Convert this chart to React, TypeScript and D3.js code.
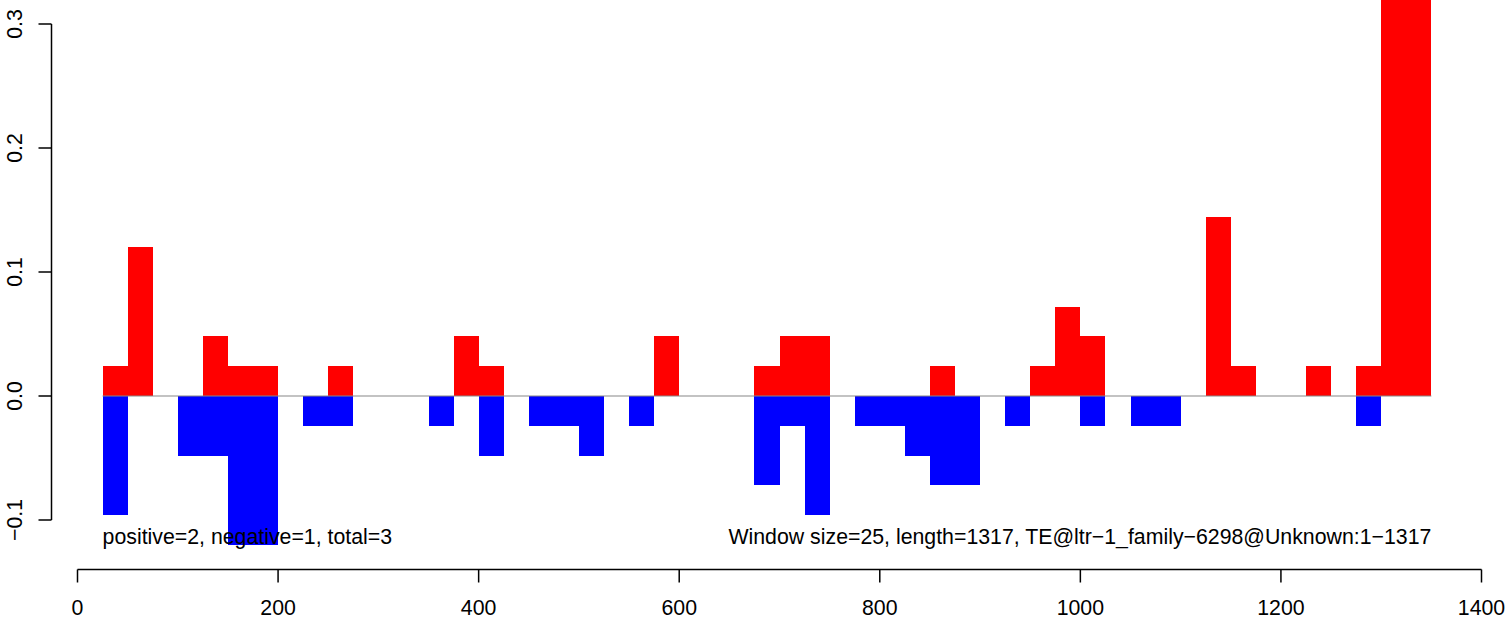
import React, { useRef, useEffect } from 'react';
import * as d3 from 'd3';

// window start positions (window size 25)
const windowStarts = [
  25, 50, 75, 100, 125, 150, 175, 200, 225, 250, 275, 300, 325, 350, 375, 400, 425, 450,
  475, 500, 525, 550, 575, 600, 625, 650, 675, 700, 725, 750, 775, 800, 825, 850, 875,
  900, 925, 950, 975, 1000, 1025, 1050, 1075, 1100, 1125, 1150, 1175, 1200, 1225, 1250,
  1275, 1300, 1325,
];
const positiveValues = [
  0.024, 0.12, 0, 0, 0.048, 0.024, 0.024, 0, 0, 0.024, 0, 0, 0, 0, 0.048, 0.024, 0, 0,
  0, 0, 0, 0, 0.048, 0, 0, 0, 0.024, 0.048, 0.048, 0, 0, 0, 0, 0.024, 0,
  0, 0, 0.024, 0.072, 0.048, 0, 0, 0, 0, 0.144, 0.024, 0, 0, 0.024, 0,
  0.024, 0.4, 0.4,
];
const negativeValues = [
  -0.096, 0, 0, -0.048, -0.048, -0.12, -0.12, 0, -0.024, -0.024, 0, 0, 0, -0.024, 0, -0.048, 0, -0.024,
  -0.024, -0.048, 0, -0.024, 0, 0, 0, 0, -0.072, -0.024, -0.096, 0, -0.024, -0.024, -0.048, -0.072, -0.072,
  0, -0.024, 0, 0, -0.024, 0, -0.024, -0.024, 0, 0, 0, 0, 0, 0, 0,
  -0.024, 0, 0,
];
const windowSize = 25;
const xTicks = [0, 200, 400, 600, 800, 1000, 1200, 1400];
const yTicks = [-0.1, 0.0, 0.1, 0.2, 0.3];
const leftNote = 'positive=2, negative=1, total=3';
const rightNote = 'Window size=25, length=1317, TE@ltr\u22121_family\u22126298@Unknown:1\u22121317';

const App: React.FC = () => {
  const svgRef = useRef<SVGSVGElement | null>(null);

  useEffect(() => {
    if (!svgRef.current) return;
    const W = 1509;
    const H = 620;
    const font = '"Liberation Sans", Arial, Helvetica, sans-serif';
    const fs = 21.3;

    const svg = d3.select(svgRef.current);
    svg.selectAll('*').remove();
    svg.attr('width', W).attr('height', H).style('background', '#fff');

    const x = d3.scaleLinear().domain([0, 1400]).range([77.5, 1481.5]);
    const y = d3.scaleLinear().domain([-0.1, 0.3]).range([520, 24]);

    const bins = windowStarts.map((s, i) => ({ s, pos: positiveValues[i], neg: negativeValues[i] }));

    const plot = svg.append('g');

    // positive bars
    plot
      .selectAll('.pos')
      .data(bins.filter((d) => d.pos > 0))
      .enter()
      .append('rect')
      .attr('x', (d) => x(d.s))
      .attr('width', (d) => x(d.s + windowSize) - x(d.s))
      .attr('y', (d) => Math.max(0, y(d.pos)))
      .attr('height', (d) => y(0) - Math.max(0, y(d.pos)))
      .attr('fill', '#FF0000')
      .attr('shape-rendering', 'crispEdges');

    // negative bars
    plot
      .selectAll('.neg')
      .data(bins.filter((d) => d.neg < 0))
      .enter()
      .append('rect')
      .attr('x', (d) => x(d.s))
      .attr('width', (d) => x(d.s + windowSize) - x(d.s))
      .attr('y', y(0))
      .attr('height', (d) => y(d.neg) - y(0))
      .attr('fill', '#0000FF')
      .attr('shape-rendering', 'crispEdges');

    // zero line
    plot
      .append('line')
      .attr('x1', x(windowStarts[0]))
      .attr('x2', x(windowStarts[windowStarts.length - 1] + windowSize))
      .attr('y1', y(0))
      .attr('y2', y(0))
      .attr('stroke', '#888888')
      .attr('stroke-width', 1.2);

    // x axis
    const xAxisG = svg.append('g').attr('transform', 'translate(0, 569.5)');
    xAxisG
      .append('line')
      .attr('x1', x(0))
      .attr('x2', x(1400))
      .attr('stroke', '#000')
      .attr('stroke-width', 1.5);
    xAxisG
      .selectAll('.xt')
      .data(xTicks)
      .enter()
      .append('line')
      .attr('x1', (d) => x(d))
      .attr('x2', (d) => x(d))
      .attr('y1', 0)
      .attr('y2', 13)
      .attr('stroke', '#000')
      .attr('stroke-width', 1.5);
    xAxisG
      .selectAll('.xl')
      .data(xTicks)
      .enter()
      .append('text')
      .attr('x', (d) => x(d))
      .attr('y', 45)
      .attr('text-anchor', 'middle')
      .style('font-family', font)
      .style('font-size', `${fs}px`)
      .text((d) => String(d));

    // y axis
    const yAxisG = svg.append('g').attr('transform', 'translate(51.5, 0)');
    yAxisG
      .append('line')
      .attr('y1', y(-0.1))
      .attr('y2', y(0.3))
      .attr('stroke', '#000')
      .attr('stroke-width', 1.5);
    yAxisG
      .selectAll('.yt')
      .data(yTicks)
      .enter()
      .append('line')
      .attr('x1', 0)
      .attr('x2', -13)
      .attr('y1', (d) => y(d))
      .attr('y2', (d) => y(d))
      .attr('stroke', '#000')
      .attr('stroke-width', 1.5);
    yAxisG
      .selectAll('.yl')
      .data(yTicks)
      .enter()
      .append('text')
      .attr('transform', (d) => `translate(-30, ${y(d)}) rotate(-90)`)
      .attr('text-anchor', 'middle')
      .style('font-family', font)
      .style('font-size', `${fs}px`)
      .text((d) => d3.format('.1f')(d).replace('-', '\u2212'));

    // notes
    svg
      .append('text')
      .attr('x', x(windowStarts[0]))
      .attr('y', 544)
      .style('font-family', font)
      .style('font-size', `${fs}px`)
      .text(leftNote);
    svg
      .append('text')
      .attr('x', x(windowStarts[windowStarts.length - 1] + windowSize))
      .attr('y', 544)
      .attr('text-anchor', 'end')
      .style('font-family', font)
      .style('font-size', `${fs}px`)
      .text(rightNote);
  }, []);

  return <svg ref={svgRef} style={{ position: 'absolute', left: 0, top: 0, display: 'block' }} />;
};

export default App;
